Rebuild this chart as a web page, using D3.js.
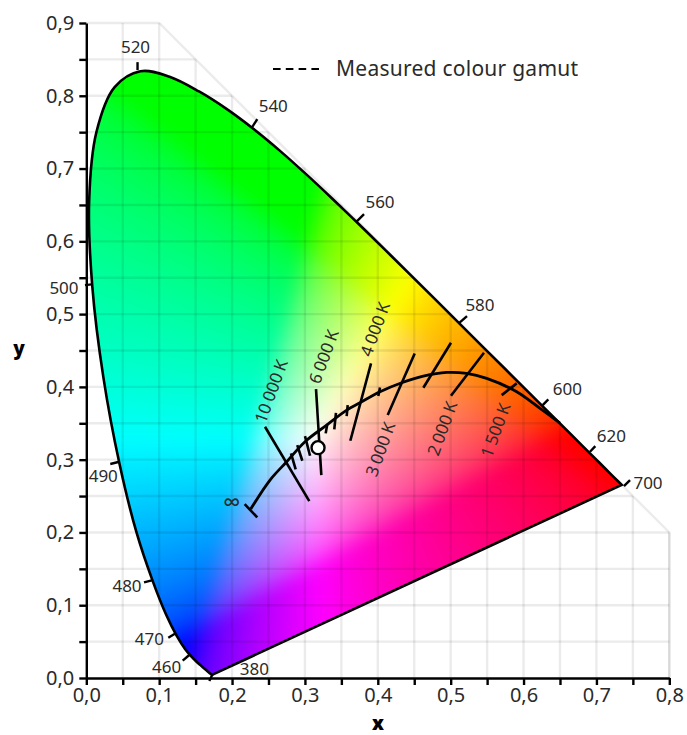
<!DOCTYPE html>
<html>
<head>
<meta charset="utf-8">
<script src="https://cdnjs.cloudflare.com/ajax/libs/d3/7.8.5/d3.min.js"></script>
<style>
  html, body { margin: 0; padding: 0; background: #fff; }
  text { font-family: "Noto Sans", Lato, sans-serif; fill: #2a2a2a; }
  .axis path, .axis line { stroke: #000; stroke-width: 2.4; }
  .axis text { font-size: 20px; font-family: "Noto Sans", Lato, sans-serif; }
</style>
</head>
<body>
<div id="chart"></div>
<script>
// Spectral locus, x and y per wavelength
var locusX = [.1741,.1733,.1714,.1689,.1644,.1566,.1510,.1440,.1355,.1241,.1096,.0913,.0687,.0454,.0235,.0082,.0039,.0139,.0389,.0743,.1142,.1547,.1929,.2296,.2658,.3016,.3373,.3731,.4087,.4441,.4788,.5125,.5448,.5752,.6029,.6270,.6482,.6658,.6801,.6915,.7006,.7079,.7190,.7260,.7300,.7334,.7347];
var locusY = [.0050,.0048,.0051,.0069,.0109,.0177,.0227,.0297,.0399,.0578,.0868,.1327,.2007,.2950,.4127,.5384,.6548,.7502,.8120,.8338,.8262,.8059,.7816,.7543,.7243,.6923,.6589,.6245,.5896,.5547,.5202,.4866,.4544,.4242,.3965,.3725,.3514,.3340,.3197,.3083,.2993,.2920,.2809,.2740,.2700,.2666,.2653];

// Wavelength ticks: label, then inner and outer end
var waveLabels = ["380","460","470","480","490","500","520","540","560","580","600","620","700"];
var waveInnerX = [.1734,.1413,.1227,.0911,.0453,.0074,.0703,.2278,.3701,.5114,.6263,.6912,.7378];
var waveInnerY = [.0055,.0316,.0614,.1346,.2971,.5408,.8352,.7573,.6264,.4876,.3750,.3109,.2637];
var waveOuterX = [.1688,.1323,.1125,.0792,.0329,-.0018,.0703,.2346,.3811,.5224,.6340,.6985,.7461];
var waveOuterY = [-.0041,.0238,.0554,.1315,.2940,.5398,.8462,.7679,.6374,.4973,.3828,.3187,.2720];

// Planckian locus, from infinity to the red end
var planckX = [.2256,.2521,.2750,.3001,.3298,.3573,.3756,.4030,.4328,.4625,.4945,.5219,.5494,.5906,.6226,.6500];
var planckY = [.2321,.2720,.2972,.3247,.3475,.3681,.3782,.3933,.4057,.4148,.4199,.4185,.4116,.3933,.3704,.3503];

// Isotherms, the long ones first
var isoX1 = [.2452,.3152,.3907,.4506,.5004,.5457,.5906,.2809,.2895,.3001,.3307,.3426,.3587,.4030,.2173];
var isoY1 = [.3452,.3970,.4323,.4460,.4606,.4468,.4048,.3087,.3201,.3324,.3489,.3644,.3750,.3993,.2390];
var isoX2 = [.3060,.3225,.3623,.4136,.4625,.5004,.5700,.2873,.2964,.3070,.3285,.3403,.3573,.4007,.2346];
var isoY2 = [.2431,.2788,.3260,.3613,.3988,.3878,.3887,.2867,.2985,.3054,.3361,.3416,.3599,.3874,.2206];

var tempLabels = ["10 000 K","6 000 K","4 000 K","3 000 K","2 000 K","1 500 K"];
var tempLabelX = [.2530,.3253,.3955,.4029,.4878,.5609];
var tempLabelY = [.3942,.4418,.4793,.3145,.3430,.3407];

var whitePoint = [.318,.3165];
var infinityPoint = [.1995,.2445];

// Setting parameters for SVG
var svgWidth = 687;
var svgHeight = 735;
var x = d3.scaleLinear().domain([0, 0.8]).range([86.3, 669.3]);
var y = d3.scaleLinear().domain([0, 0.9]).range([678, 23]);

var svg = d3.select("#chart")
  .append("svg")
  .attr("width", svgWidth)
  .attr("height", svgHeight)
  .style("display", "block");

// Chromaticity to display colour, clipped at the sRGB gamut and pushed to full brightness
function gamma(c) {
  return c <= 0.0031308 ? 12.92 * c : 1.055 * Math.pow(c, 1 / 2.4) - 0.055;
}
function chromaColor(cx, cy) {
  var X = cx / cy, Z = (1 - cx - cy) / cy;
  var r = Math.max(0,  3.2406 * X - 1.5372 - 0.4986 * Z);
  var g = Math.max(0, -0.9689 * X + 1.8758 + 0.0415 * Z);
  var b = Math.max(0,  0.0557 * X - 0.2040 + 1.0570 * Z);
  var m = Math.max(r, g, b) || 1;
  return [gamma(r / m) * 255, gamma(g / m) * 255, gamma(b / m) * 255];
}

// Painting the colour field on a canvas, softening the clip creases, then clipping it with the locus
var canvas = document.createElement("canvas");
canvas.width = svgWidth;
canvas.height = svgHeight;
var ctx = canvas.getContext("2d");
var img = ctx.createImageData(svgWidth, svgHeight);
for (var py = 0; py < svgHeight; py++) {
  for (var px = 0; px < svgWidth; px++) {
    var c = chromaColor(x.invert(px + 0.5), Math.max(0.002, y.invert(py + 0.5)));
    var i = (py * svgWidth + px) * 4;
    img.data[i] = c[0];
    img.data[i + 1] = c[1];
    img.data[i + 2] = c[2];
    img.data[i + 3] = 255;
  }
}
ctx.putImageData(img, 0, 0);
var soft = document.createElement("canvas");
soft.width = svgWidth;
soft.height = svgHeight;
var softCtx = soft.getContext("2d");
softCtx.drawImage(canvas, 0, 0);
softCtx.filter = "blur(9px)";
softCtx.drawImage(canvas, 0, 0);

var locusPoints = locusX.map((d, i) => [x(d), y(locusY[i])]);
var locusPath = d3.line().curve(d3.curveCatmullRom)(locusPoints) + "Z";

svg.append("clipPath").attr("id", "locus-clip").append("path").attr("d", locusPath);
svg.append("image")
  .attr("href", soft.toDataURL())
  .attr("width", svgWidth)
  .attr("height", svgHeight)
  .attr("clip-path", "url(#locus-clip)");

// Grid at every 0.05, cut off by the x + y = 1 line
var gridX = d3.range(1, 17).map(d => d * 0.05);
var gridY = d3.range(1, 18).map(d => d * 0.05);
var gridGroup = svg.append("g")
  .attr("stroke", "#000")
  .attr("stroke-opacity", 0.08)
  .attr("stroke-width", 2.4)
  .attr("fill", "none");
gridGroup.selectAll(".gv").data(gridX).enter().append("line")
  .attr("x1", d => x(d)).attr("x2", d => x(d))
  .attr("y1", y(0)).attr("y2", d => y(Math.min(0.9, 1 - d)));
gridGroup.selectAll(".gh").data(gridY).enter().append("line")
  .attr("y1", d => y(d)).attr("y2", d => y(d))
  .attr("x1", x(0)).attr("x2", d => x(Math.min(0.8, 1 - d)));
gridGroup.append("path")
  .attr("d", d3.line()([[x(0), y(0.9)], [x(0.1), y(0.9)], [x(0.8), y(0.2)], [x(0.8), y(0)]]));

// Locus outline
svg.append("path")
  .attr("d", locusPath)
  .attr("fill", "none")
  .attr("stroke", "#000")
  .attr("stroke-width", 2.6);

// Wavelength ticks and labels
var waveOffsets = [[45,-12],[-16,6],[-19,1],[-17,3],[-7,11],[-21,2],[-2,-16],[16,-14],[16,-13],[13,-12],[19,-11],[16,-11],[18,2]];
var waveGroup = svg.append("g");
waveGroup.selectAll("line").data(waveLabels).enter().append("line")
  .attr("x1", (d, i) => x(waveInnerX[i]))
  .attr("y1", (d, i) => y(waveInnerY[i]))
  .attr("x2", (d, i) => x(waveOuterX[i]))
  .attr("y2", (d, i) => y(waveOuterY[i]))
  .attr("stroke", "#000")
  .attr("stroke-width", 2.4);
waveGroup.selectAll("text").data(waveLabels).enter().append("text")
  .attr("x", (d, i) => x(waveOuterX[i]) + waveOffsets[i][0])
  .attr("y", (d, i) => y(waveOuterY[i]) + waveOffsets[i][1])
  .attr("text-anchor", "middle")
  .attr("dominant-baseline", "central")
  .attr("font-size", 17)
  .text(d => d);

// Planckian locus and isotherms
svg.append("path")
  .attr("d", d3.line().curve(d3.curveCatmullRom)(planckX.map((d, i) => [x(d), y(planckY[i])])))
  .attr("fill", "none")
  .attr("stroke", "#000")
  .attr("stroke-width", 2.8);
svg.append("g").selectAll("line").data(isoX1).enter().append("line")
  .attr("x1", d => x(d))
  .attr("y1", (d, i) => y(isoY1[i]))
  .attr("x2", (d, i) => x(isoX2[i]))
  .attr("y2", (d, i) => y(isoY2[i]))
  .attr("stroke", "#000")
  .attr("stroke-width", 2.6);

svg.append("g").selectAll("text").data(tempLabels).enter().append("text")
  .attr("transform", (d, i) => `translate(${x(tempLabelX[i])}, ${y(tempLabelY[i])}) rotate(-70)`)
  .attr("text-anchor", "middle")
  .attr("dominant-baseline", "central")
  .attr("font-size", 17)
  .style("word-spacing", "-1px")
  .text(d => d);

svg.append("text")
  .attr("x", x(infinityPoint[0]))
  .attr("y", y(infinityPoint[1]))
  .attr("text-anchor", "middle")
  .attr("dominant-baseline", "central")
  .attr("font-size", 23)
  .text("\u221E");

// White point
svg.append("circle")
  .attr("cx", x(whitePoint[0]))
  .attr("cy", y(whitePoint[1]))
  .attr("r", 6.5)
  .attr("fill", "#fff")
  .attr("stroke", "#000")
  .attr("stroke-width", 2.4);

// Axes
var fmt = d => Math.round(d * 100) % 10 === 0 ? d.toFixed(1).replace(".", ",") : "";
svg.append("g")
  .attr("class", "axis")
  .attr("transform", `translate(0, ${y(0)})`)
  .call(d3.axisBottom(x).tickValues(d3.range(0, 17).map(d => d * 0.05)).tickFormat(fmt).tickSize(7).tickPadding(3).tickSizeOuter(0));
svg.append("g")
  .attr("class", "axis")
  .attr("transform", `translate(${x(0)}, 0)`)
  .call(d3.axisLeft(y).tickValues(d3.range(0, 19).map(d => d * 0.05)).tickFormat(fmt).tickSize(7).tickPadding(5).tickSizeOuter(0));

svg.append("text")
  .attr("x", 378).attr("y", 729.5)
  .attr("text-anchor", "middle")
  .attr("font-size", 19).attr("font-weight", 900).style("fill", "#000")
  .text("x");
svg.append("text")
  .attr("x", 19).attr("y", 355)
  .attr("text-anchor", "middle")
  .attr("font-size", 19).attr("font-weight", 900).style("fill", "#000")
  .text("y");

// Legend
svg.append("line")
  .attr("x1", 273).attr("x2", 319)
  .attr("y1", 69).attr("y2", 69)
  .attr("stroke", "#000")
  .attr("stroke-width", 2.2)
  .attr("stroke-dasharray", "7.6,5.2");
svg.append("text")
  .attr("x", 336).attr("y", 68)
  .attr("dominant-baseline", "central")
  .attr("font-size", 21)
  .style("letter-spacing", "0.25px")
  .text("Measured colour gamut");
</script>
</body>
</html>
